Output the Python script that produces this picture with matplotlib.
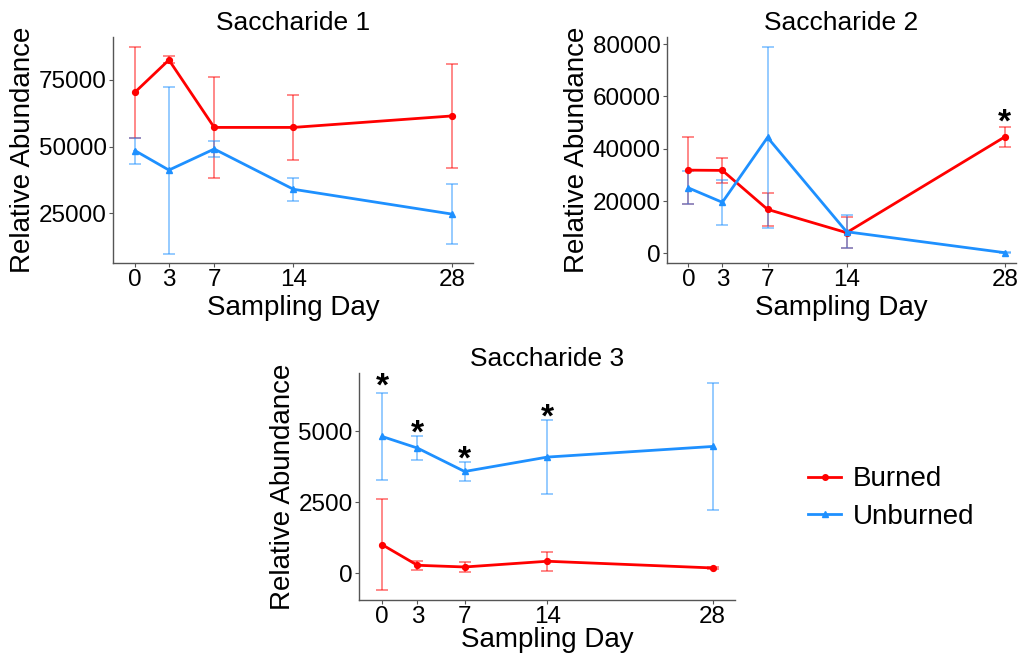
import matplotlib
matplotlib.use("Agg")
import matplotlib.pyplot as plt
from matplotlib.lines import Line2D
from matplotlib.transforms import offset_copy

plt.rcParams['font.family'] = ['Liberation Sans', 'DejaVu Sans']

days = [0, 3, 7, 14, 28]
day_labels = ["0", "3", "7", "14", "28"]

# Saccharide 1
s1_burned = [70400, 82500, 57200, 57200, 61500]
s1_burned_err = [17000, 1300, 19000, 12100, 19400]
s1_unburned = [48500, 41200, 49100, 34000, 24700]
s1_unburned_err = [4900, 31300, 3000, 4250, 11100]
s1_yticks = [25000, 50000, 75000]

# Saccharide 2
s2_burned = [31800, 31700, 16800, 7900, 44500]
s2_burned_err = [12800, 4650, 6400, 5800, 3700]
s2_unburned = [25000, 19500, 44300, 8250, 250]
s2_unburned_err = [6300, 8600, 34700, 6300, 200]
s2_yticks = [0, 20000, 40000, 60000, 80000]
s2_star_days = [28]
s2_star_y = [53700]

# Saccharide 3
s3_burned = [1010, 282, 222, 424, 188]
s3_burned_err = [1600, 150, 180, 340, 50]
s3_unburned = [4823, 4414, 3588, 4096, 4470]
s3_unburned_err = [1530, 430, 345, 1290, 2250]
s3_yticks = [0, 2500, 5000]
s3_star_days = [0, 3, 7, 14]
s3_star_y = [6900, 5258, 4340, 5830]

RED = "#FF0000"
BLUE = "#1E90FF"
STAR_FS = 24

W, H = 1018, 655
fig = plt.figure(figsize=(W / 100, H / 100), dpi=100)


def add_ax(left, top, right, bottom):
    return fig.add_axes([left / W, 1 - bottom / H, (right - left) / W, (bottom - top) / H])


def draw_panel(ax, title, burned, burned_err, unburned, unburned_err,
               yticks, ylim, xlim, stars_x=(), stars_y=(), xlabelpad=2.5):
    for vals, errs, color, marker, ms in [
        (burned, burned_err, RED, "o", 4.2),
        (unburned, unburned_err, BLUE, "^", 4.8),
    ]:
        ax.errorbar(days, vals, yerr=errs, fmt="none", ecolor=color, alpha=0.5,
                    elinewidth=1.3, capsize=4, capthick=1.3, zorder=2)
        ax.plot(days, vals, color=color, lw=2, marker=marker, ms=ms, zorder=3)
    # glyph sits high in its text box; nudge it so its middle lands on the value
    star_tr = offset_copy(ax.transData, fig=fig, y=-0.3 * STAR_FS, units="points")
    for sx, sy in zip(stars_x, stars_y):
        ax.text(sx, sy, "*", ha="center", va="center", fontsize=STAR_FS,
                fontweight="bold", color="black", transform=star_tr)
    ax.set_xlim(*xlim)
    ax.set_ylim(*ylim)
    ax.set_xticks(days)
    ax.set_xticklabels(day_labels)
    ax.set_yticks(yticks)
    ax.set_yticklabels([str(t) for t in yticks])
    for side in ("top", "right"):
        ax.spines[side].set_visible(False)
    for side in ("left", "bottom"):
        ax.spines[side].set_color("#555555")
        ax.spines[side].set_linewidth(1.0)
    ax.tick_params(axis="both", labelsize=17.5, length=3, width=0.8, color="#555555",
                   labelcolor="black", pad=1.5)
    ax.set_title(title, fontsize=19, pad=5)
    ax.set_xlabel("Sampling Day", fontsize=20, labelpad=xlabelpad)
    ax.set_ylabel("Relative Abundance", fontsize=20, labelpad=2)


ax1 = add_ax(113, 37, 473, 263)
draw_panel(ax1, "Saccharide 1", s1_burned, s1_burned_err, s1_unburned, s1_unburned_err,
           s1_yticks, (6360, 91100), (-1.94, 29.86))

ax2 = add_ax(667, 37, 1016, 263)
draw_panel(ax2, "Saccharide 2", s2_burned, s2_burned_err, s2_unburned, s2_unburned_err,
           s2_yticks, (-3700, 82700), (-1.9, 29.0), s2_star_days, s2_star_y)

ax3 = add_ax(359, 373, 735, 600)
draw_panel(ax3, "Saccharide 3", s3_burned, s3_burned_err, s3_unburned, s3_unburned_err,
           s3_yticks, (-942, 7060), (-1.95, 29.9), s3_star_days, s3_star_y,
           xlabelpad=-1.0)

handles = [
    Line2D([], [], color=RED, lw=2, marker="o", ms=4),
    Line2D([], [], color=BLUE, lw=2, marker="^", ms=4.5),
]
fig.legend(handles, ["Burned", "Unburned"], loc="center left",
           bbox_to_anchor=(783 / W, 1 - 498 / H), frameon=False, fontsize=20,
           handlelength=1.2, handletextpad=0.4, labelspacing=0.4)

fig.savefig("out.png", dpi=100)
